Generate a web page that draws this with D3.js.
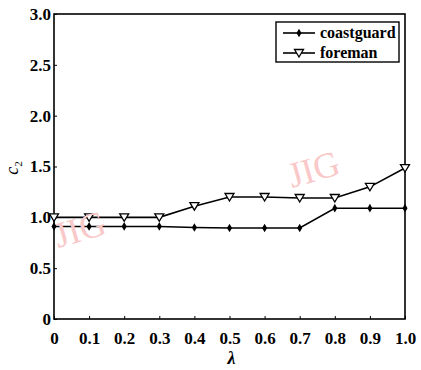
<!DOCTYPE html>
<html>
<head>
<meta charset="utf-8">
<script src="https://cdn.jsdelivr.net/npm/d3@7"></script>
<style>
  body { margin: 0; background: #fff; }
  svg text { font-family: "Liberation Serif", "Times New Roman", serif; }
  .tick text { font-size: 17px; font-weight: bold; fill: #000; }
</style>
</head>
<body>
<div id="chart"></div>
<script>
// Data
var lambdas = [0, 0.1, 0.2, 0.3, 0.4, 0.5, 0.6, 0.7, 0.8, 0.9, 1.0];
var coastguard = [0.91, 0.91, 0.91, 0.91, 0.9, 0.895, 0.895, 0.895, 1.09, 1.09, 1.09];
var foreman = [1.0, 1.0, 1.0, 1.0, 1.11, 1.2, 1.2, 1.19, 1.19, 1.3, 1.485];
var xTicks = [0, 0.1, 0.2, 0.3, 0.4, 0.5, 0.6, 0.7, 0.8, 0.9, 1.0];
var yTicks = [0, 0.5, 1.0, 1.5, 2.0, 2.5, 3.0];

var width = 421, height = 370;
var margin = {top: 14, right: 16, bottom: 51, left: 54};
var w = width - margin.left - margin.right;
var h = height - margin.top - margin.bottom;

var svg = d3.select("#chart").append("svg")
  .attr("width", width)
  .attr("height", height);

var x = d3.scaleLinear().domain([0, 1]).range([0, w]);
var y = d3.scaleLinear().domain([0, 3]).range([h, 0]);

var g = svg.append("g")
  .attr("transform", "translate(" + margin.left + "," + margin.top + ")");

// watermarks
svg.append("text")
  .attr("transform", "translate(58,248) rotate(-16)")
  .attr("font-size", 36).attr("fill", "#f9c8c8")
  .text("JIG");
svg.append("text")
  .attr("transform", "translate(292,188) rotate(-16)")
  .attr("font-size", 36).attr("fill", "#f9c8c8")
  .text("JIG");

var fmt = function(d) { return d === 0 ? "0" : d.toFixed(1); };

// X axis
g.append("g")
  .attr("transform", "translate(0," + h + ")")
  .call(d3.axisBottom(x).tickValues(xTicks).tickFormat(fmt).tickSize(-3).tickPadding(13))
  .call(function(a) { a.select(".domain").remove(); a.attr("font-family", null); });

// Y axis
g.append("g")
  .call(d3.axisLeft(y).tickValues(yTicks).tickFormat(fmt).tickSize(-3).tickPadding(3))
  .call(function(a) { a.select(".domain").remove(); a.attr("font-family", null); });

g.selectAll(".tick line").attr("stroke", "#000");

// frame
g.append("rect")
  .attr("width", w).attr("height", h)
  .attr("fill", "none").attr("stroke", "#000").attr("stroke-width", 1.6);

// lines
var line = d3.line()
  .x(function(d, i) { return x(lambdas[i]); })
  .y(function(d) { return y(d); });

g.append("path").datum(coastguard)
  .attr("d", line).attr("fill", "none")
  .attr("stroke", "#000").attr("stroke-width", 1.6);
g.append("path").datum(foreman)
  .attr("d", line).attr("fill", "none")
  .attr("stroke", "#000").attr("stroke-width", 1.6);

var diamond = d3.symbol().type(d3.symbolDiamond).size(22);
var tri = "M-4.5,-3.5L4.5,-3.5L0,4Z";

g.selectAll(".cg").data(coastguard).enter().append("path")
  .attr("d", diamond)
  .attr("transform", function(d, i) { return "translate(" + x(lambdas[i]) + "," + y(d) + ")"; })
  .attr("fill", "#000");

g.selectAll(".fm").data(foreman).enter().append("path")
  .attr("d", tri)
  .attr("transform", function(d, i) { return "translate(" + x(lambdas[i]) + "," + y(d) + ")"; })
  .attr("fill", "#fff").attr("stroke", "#000").attr("stroke-width", 1.3);

// legend
var lg = svg.append("g").attr("transform", "translate(276,22)");
lg.append("rect").attr("width", 123).attr("height", 40)
  .attr("fill", "#fff").attr("stroke", "#000").attr("stroke-width", 1.4);
var names = ["coastguard", "foreman"];
names.forEach(function(n, i) {
  var yy = 11 + i * 20;
  lg.append("line").attr("x1", 7).attr("x2", 39).attr("y1", yy).attr("y2", yy)
    .attr("stroke", "#000").attr("stroke-width", 1.6);
  lg.append("path")
    .attr("d", i === 0 ? diamond : tri)
    .attr("transform", "translate(23," + yy + ")")
    .attr("fill", i === 0 ? "#000" : "#fff")
    .attr("stroke", i === 0 ? "none" : "#000").attr("stroke-width", 1.3);
  lg.append("text").attr("x", 44).attr("y", yy + 5)
    .attr("font-size", 16).attr("font-weight", "bold").text(n);
});

// axis titles
svg.append("text")
  .attr("x", margin.left + w / 2 + 2).attr("y", 364)
  .attr("text-anchor", "middle")
  .attr("font-size", 18).attr("font-weight", "bold").attr("font-style", "italic")
  .text("λ");

var yl = svg.append("text")
  .attr("transform", "translate(18,168) rotate(-90)")
  .attr("text-anchor", "middle")
  .attr("font-size", 18).attr("font-style", "italic");
yl.append("tspan").text("c");
yl.append("tspan").attr("font-size", 11).attr("dy", 4).attr("font-style", "normal").text("2");
</script>
</body>
</html>
